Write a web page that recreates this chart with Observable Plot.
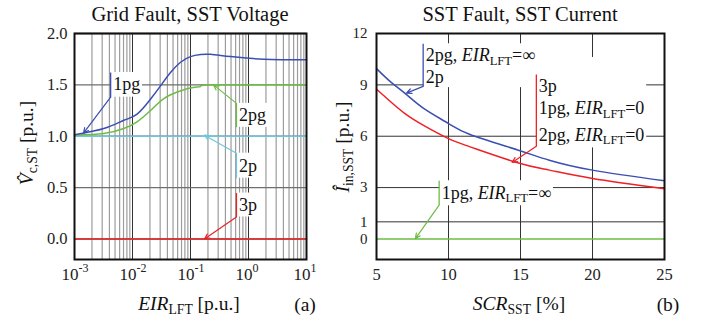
<!DOCTYPE html>
<html><head><meta charset="utf-8">
<script src="https://cdn.jsdelivr.net/npm/d3@7"></script>
<script src="https://cdn.jsdelivr.net/npm/@observablehq/plot@0.6"></script>
<style>
html,body{margin:0;padding:0;background:#fff;}
#wrap{position:relative;width:707px;height:325px;overflow:hidden;background:#fff;}
#wrap svg{position:absolute;top:0;}
</style></head><body><div id="wrap"></div>
<script>
const FONT = '"Liberation Serif","Times New Roman",serif';
const COLORS = {"1pg": "#3b4fb3", "2pg": "#6dbd45", "2p": "#6ec6dc", "3p": "#ee2127",
                "blue": "#3b4fb3", "red": "#ee2127", "green": "#6dbd45"};

// ---------- Panel (a): Grid Fault, SST Voltage ----------
const eirBlue  = [0.001, 0.0032, 0.0071, 0.012, 0.0204, 0.0304, 0.0452, 0.0673, 0.1, 0.149, 0.221, 0.49, 1.84, 10];
const v1pg     = [1.015, 1.075, 1.155, 1.215, 1.36, 1.49, 1.62, 1.72, 1.775, 1.795, 1.797, 1.775, 1.75, 1.745];
const eirGreen = [0.001, 0.0032, 0.0071, 0.012, 0.0204, 0.0347, 0.059, 0.1, 0.149, 0.25, 10];
const v2pg     = [1.01, 1.026, 1.075, 1.14, 1.25, 1.366, 1.43, 1.47, 1.485, 1.5, 1.5];
const eirFlat  = [0.001, 10];
const v2p      = [1.0, 1.0];
const v3p      = [0.0, 0.0];
const xTicksA  = [0.001, 0.01, 0.1, 1, 10];
const xExpA    = ["-3", "-2", "-1", "0", "1"];
const yTicksA  = [0, 0.5, 1.0, 1.5, 2.0];
const minorA   = xTicksA.slice(0, -1).flatMap(d => [2,3,4,5,6,7,8,9].map(m => m * d));

// annotations (data units): vertical leader at x from y1 to y2, arrow to (tx, ty)
const annA = [
  {key: "1pg", x: 0.0042, y1: 1.62, y2: 1.38, from: "bottom", tx: 0.00143, ty: 1.03, ly: [1.5],  lines: [[["1pg", ""]]]},
  {key: "2pg", x: 0.62,   y1: 1.32, y2: 1.087, from: "top",   tx: 0.25,    ty: 1.50, ly: [1.20], lines: [[["2pg", ""]]]},
  {key: "2p",  x: 0.62,   y1: 0.835, y2: 0.592, from: "top",  tx: 0.174,   ty: 1.01, ly: [0.71], lines: [[["2p", ""]]]},
  {key: "3p",  x: 0.62,   y1: 0.447, y2: 0.214, from: "bottom", tx: 0.174, ty: 0.0,  ly: [0.33], lines: [[["3p", ""]]]}
];

// ---------- Panel (b): SST Fault, SST Current ----------
const scr      = [5, 6, 7, 8.3, 10, 11.5, 14.8, 17, 20, 25];
const iBlue    = [9.95, 9.16, 8.49, 7.61, 6.74, 6.10, 5.2, 4.6, 4.02, 3.40];
const iRed     = [8.75, 8.0, 7.31, 6.62, 5.86, 5.38, 4.45, 4.02, 3.53, 2.93];
const scrFlat  = [5, 25];
const iGreen   = [0, 0];
const xTicksB  = [5, 10, 15, 20, 25];
const yTicksB  = [0, 1, 3, 6, 9, 12];
const gridXB   = [10, 15, 20];
const gridYB   = [1, 3, 6, 9];

const annB = [
  {key: "blue", x: 8.24, y1: 11.4, y2: 8.91, from: "bottom", tx: 7.08, ty: 8.52, ly: [10.72, 9.43], top: 11.4,
   lines: [[["2pg, ", ""], ["EIR", "i"], ["LFT", "s"], ["=\u221E", ""]], [["2p", ""]]]},
  {key: "red", x: 16.1, y1: 9.61, y2: 5.42, from: "bottom", tx: 14.42, ty: 4.47, ly: [8.91, 7.63, 6.06], top: 10.6,
   lines: [[["3p", ""]],
           [["1pg, ", ""], ["EIR", "i"], ["LFT", "s"], ["=0", ""]],
           [["2pg, ", ""], ["EIR", "i"], ["LFT", "s"], ["=0", ""]]]},
  {key: "green", x: 9.35, y1: 3.4, y2: 1.98, from: "bottom", tx: 7.7, ty: 0.02, ly: [2.68], top: 3.4,
   lines: [[["1pg, ", ""], ["EIR", "i"], ["LFT", "s"], ["=\u221E", ""]]]}
];

// ---------- helpers ----------
function rich(t, segs, size) {
  let sub = false;
  segs.forEach(([txt, st]) => {
    const ts = t.append("tspan").text(txt);
    if (st === "i") ts.attr("font-style", "italic");
    if (st === "s") {
      ts.attr("font-size", size * 0.7).attr("dy", size * 0.2);
      sub = true;
    } else if (sub) {
      ts.attr("dy", -size * 0.2);
      sub = false;
    }
  });
}

function leaderMarks(anns) {
  return anns.flatMap(a => [
    Plot.link([a], {x1: "x", x2: "x", y1: "y1", y2: "y2", stroke: COLORS[a.key], strokeWidth: 1.3}),
    Plot.arrow([a], {x1: "x", y1: d => d.from === "bottom" ? d.y2 : d.y1, x2: "tx", y2: "ty",
      stroke: COLORS[a.key], strokeWidth: 1.2, headLength: 7, headAngle: 50})
  ]);
}

function addAnnotations(svg, plot, anns, size) {
  const sx = plot.scale("x"), sy = plot.scale("y");
  const root = d3.select(svg);
  const boxLayer = root.insert("g", '[aria-label="link"]');
  const textLayer = root.append("g").attr("font-family", FONT).attr("font-size", size)
    .attr("fill", "#111").attr("text-anchor", "start");
  anns.forEach(a => {
    const lx = sx.apply(a.x);
    const g = textLayer.append("g");
    a.lines.forEach((segs, i) => {
      const t = g.append("text").attr("x", lx + 3).attr("y", sy.apply(a.ly[i]) + size * 0.34);
      rich(t, segs, size);
    });
    const bb = g.node().getBBox();
    const top = Math.min(bb.y, sy.apply(a.top ?? a.y1)), bot = Math.max(bb.y + bb.height, sy.apply(a.y2));
    boxLayer.append("rect").attr("x", lx + 0.8).attr("y", top)
      .attr("width", bb.x + bb.width - lx + 1).attr("height", bot - top).attr("fill", "white");
  });
}

function addText(svg, x, y, segs, size, rotate, anchor = "middle") {
  const t = d3.select(svg).append("text")
    .attr("transform", `translate(${x},${y})` + (rotate ? ` rotate(${rotate})` : ""))
    .attr("text-anchor", anchor).attr("font-family", FONT).attr("font-size", size).attr("fill", "#111");
  rich(t, segs, size);
  return t;
}

const wrap = document.getElementById("wrap");

// ---------- Panel (a) ----------
const lineA = (xs, ys, key) => Plot.line(xs.map((x, i) => [x, ys[i]]),
  {x: d => d[0], y: d => d[1], stroke: COLORS[key], strokeWidth: 1.5, curve: "natural"});

const plotA = Plot.plot({
  width: 330, height: 325,
  marginTop: 33, marginBottom: 66, marginLeft: 74, marginRight: 24,
  style: {fontFamily: FONT, fontSize: "16.5px", background: "transparent", color: "#222"},
  x: {type: "log", domain: [0.001, 10], axis: null},
  y: {domain: [-0.2, 2.0], ticks: yTicksA, tickFormat: d3.format(".1f"), tickSize: 0, tickPadding: 7, label: null},
  marks: [
    Plot.ruleX(minorA, {stroke: "#9c9c9c", strokeWidth: 1.2}),
    Plot.ruleX(xTicksA, {stroke: "#333", strokeWidth: 1}),
    Plot.ruleY(yTicksA, {stroke: "#6e6e6e", strokeWidth: 1.4}),
    lineA(eirFlat, v2p, "2p"),
    lineA(eirFlat, v3p, "3p"),
    lineA(eirGreen, v2pg, "2pg"),
    lineA(eirBlue, v1pg, "1pg"),
    ...leaderMarks(annA),
    Plot.text(xTicksA, {x: d => d, frameAnchor: "bottom", text: () => "10", textAnchor: "end",
      dx: 4, dy: 15, lineAnchor: "middle", fontSize: 17, fill: "#222"}),
    Plot.text(xTicksA, {x: d => d, frameAnchor: "bottom", text: (d, i) => xExpA[i], textAnchor: "start",
      dx: 4, dy: 9, lineAnchor: "middle", fontSize: 12, fill: "#222"}),
    Plot.frame({stroke: "#111", strokeWidth: 2})
  ]
});
plotA.style.left = "0px";
wrap.appendChild(plotA);
addAnnotations(plotA, plotA, annA, 18);
addText(plotA, 190, 21, [["Grid Fault, SST Voltage", ""]], 20.5);
addText(plotA, 33, 143, [["V\u0302", "i"], ["c,ST", "s"], [" [p.u.]", ""]], 19.5, -90);
addText(plotA, 189, 310, [["EIR", "i"], ["LFT", "s"], [" [p.u.]", ""]], 19.5);
addText(plotA, 305, 311, [["(a)", ""]], 19.5);

// ---------- Panel (b) ----------
const lineB = (xs, ys, key) => Plot.line(xs.map((x, i) => [x, ys[i]]),
  {x: d => d[0], y: d => d[1], stroke: COLORS[key], strokeWidth: 1.5, curve: "natural"});

const plotB = Plot.plot({
  width: 377, height: 325,
  marginTop: 33, marginBottom: 66, marginLeft: 46, marginRight: 43,
  style: {fontFamily: FONT, fontSize: "16.5px", background: "transparent", color: "#222"},
  x: {domain: [5, 25], ticks: xTicksB, tickSize: 0, tickPadding: 9, label: null},
  y: {domain: [-1.2, 12], ticks: yTicksB, tickFormat: d => String(d), tickSize: 0, tickPadding: 9, label: null},
  marks: [
    Plot.ruleX(gridXB, {stroke: "#333", strokeWidth: 1}),
    Plot.ruleY(gridYB, {stroke: "#333", strokeWidth: 1}),
    lineB(scrFlat, iGreen, "green"),
    lineB(scr, iRed, "red"),
    lineB(scr, iBlue, "blue"),
    ...leaderMarks(annB),
    Plot.frame({stroke: "#111", strokeWidth: 2})
  ]
});
plotB.style.left = "330px";
wrap.appendChild(plotB);
d3.select(plotB).selectAll('g[aria-label="y-axis tick label"]').attr("font-size", 15);
addAnnotations(plotB, plotB, annB, 18);
addText(plotB, 190, 21, [["SST Fault, SST Current", ""]], 20.5);
addText(plotB, 19, 147, [["I\u0302", "i"], ["in,SST", "s"], [" [p.u.]", ""]], 19.5, -90);
addText(plotB, 189, 310, [["SCR", "i"], ["SST", "s"], [" [%]", ""]], 19.5);
addText(plotB, 338, 311, [["(b)", ""]], 19.5);
</script></body></html>
